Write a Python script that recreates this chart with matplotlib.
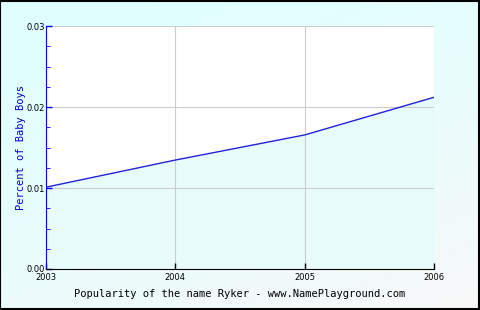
import numpy as np
import matplotlib
matplotlib.use("Agg")
import matplotlib.pyplot as plt
from matplotlib.patches import Rectangle

years = [2003, 2004, 2005, 2006]
percent = [0.0101, 0.01345, 0.01655, 0.0212]
y_ticks = [0.0, 0.01, 0.02, 0.03]
y_ticklabels = ["0.00", "0.01", "0.02", "0.03"]
y_minor = [0.0025, 0.005, 0.0075, 0.0125, 0.015, 0.0175, 0.0225, 0.025, 0.0275]
title = "Popularity of the name Ryker - www.NamePlayground.com"

fig = plt.figure(figsize=(4.8, 3.1), dpi=100)

# gradient background, cyan top-left fading to grey-white bottom-right
bg = fig.add_axes([0, 0, 1, 1], zorder=-10)
gx, gy = np.meshgrid(np.linspace(0, 1, 200), np.linspace(0, 1, 200))
t = np.clip((gx * 0.6 + gy) / 1.6, 0, 1) ** 1.5
c0 = np.array([0.878, 1.0, 1.0])
c1 = np.array([0.975, 0.975, 0.975])
img = c0[None, None, :] * (1 - t[..., None]) + c1[None, None, :] * t[..., None]
bg.imshow(img, aspect="auto", extent=[0, 1, 0, 1], origin="upper")
bg.axis("off")
fig.patches.append(Rectangle((0.001, 0.002), 0.997, 0.995, transform=fig.transFigure,
                             fill=False, edgecolor="black", linewidth=1.5))

ax = fig.add_axes([46 / 480, 41 / 310, 388 / 480, 243 / 310])
ax.set_facecolor("white")
ax.plot(years, percent, color="#2222dd", linewidth=1)
ax.fill_between(years, percent, 0, color="#e8fcfc", zorder=0)

ax.set_xlim(2003, 2006)
ax.set_ylim(0, 0.03)
ax.set_xticks(years)
ax.set_xticklabels([str(y) for y in years])
ax.set_yticks(y_ticks)
ax.set_yticklabels(y_ticklabels)
ax.set_yticks(y_minor, minor=True)
ax.grid(True, color="#cccccc", linewidth=0.8)
for ln in ax.get_xgridlines() + ax.get_ygridlines():
    ln.set_zorder(0.5)

ax.tick_params(axis="both", labelsize=6, length=4, width=1, pad=1, colors="black")
ax.tick_params(axis="y", which="both", direction="in", color="blue")
ax.tick_params(axis="y", which="minor", length=3)
ax.tick_params(axis="x", direction="in", color="black", pad=3)

ax.spines["left"].set_color("blue")
ax.spines["bottom"].set_color("black")
ax.spines["top"].set_visible(False)
ax.spines["right"].set_visible(False)

ax.set_ylabel("Percent of Baby Boys", color="#0000cc", fontsize=7.5,
              family="DejaVu Sans Mono", labelpad=0)
ax.set_xlabel(title, fontsize=7.5, family="DejaVu Sans Mono", labelpad=5)

fig.savefig("out.png", dpi=100)
